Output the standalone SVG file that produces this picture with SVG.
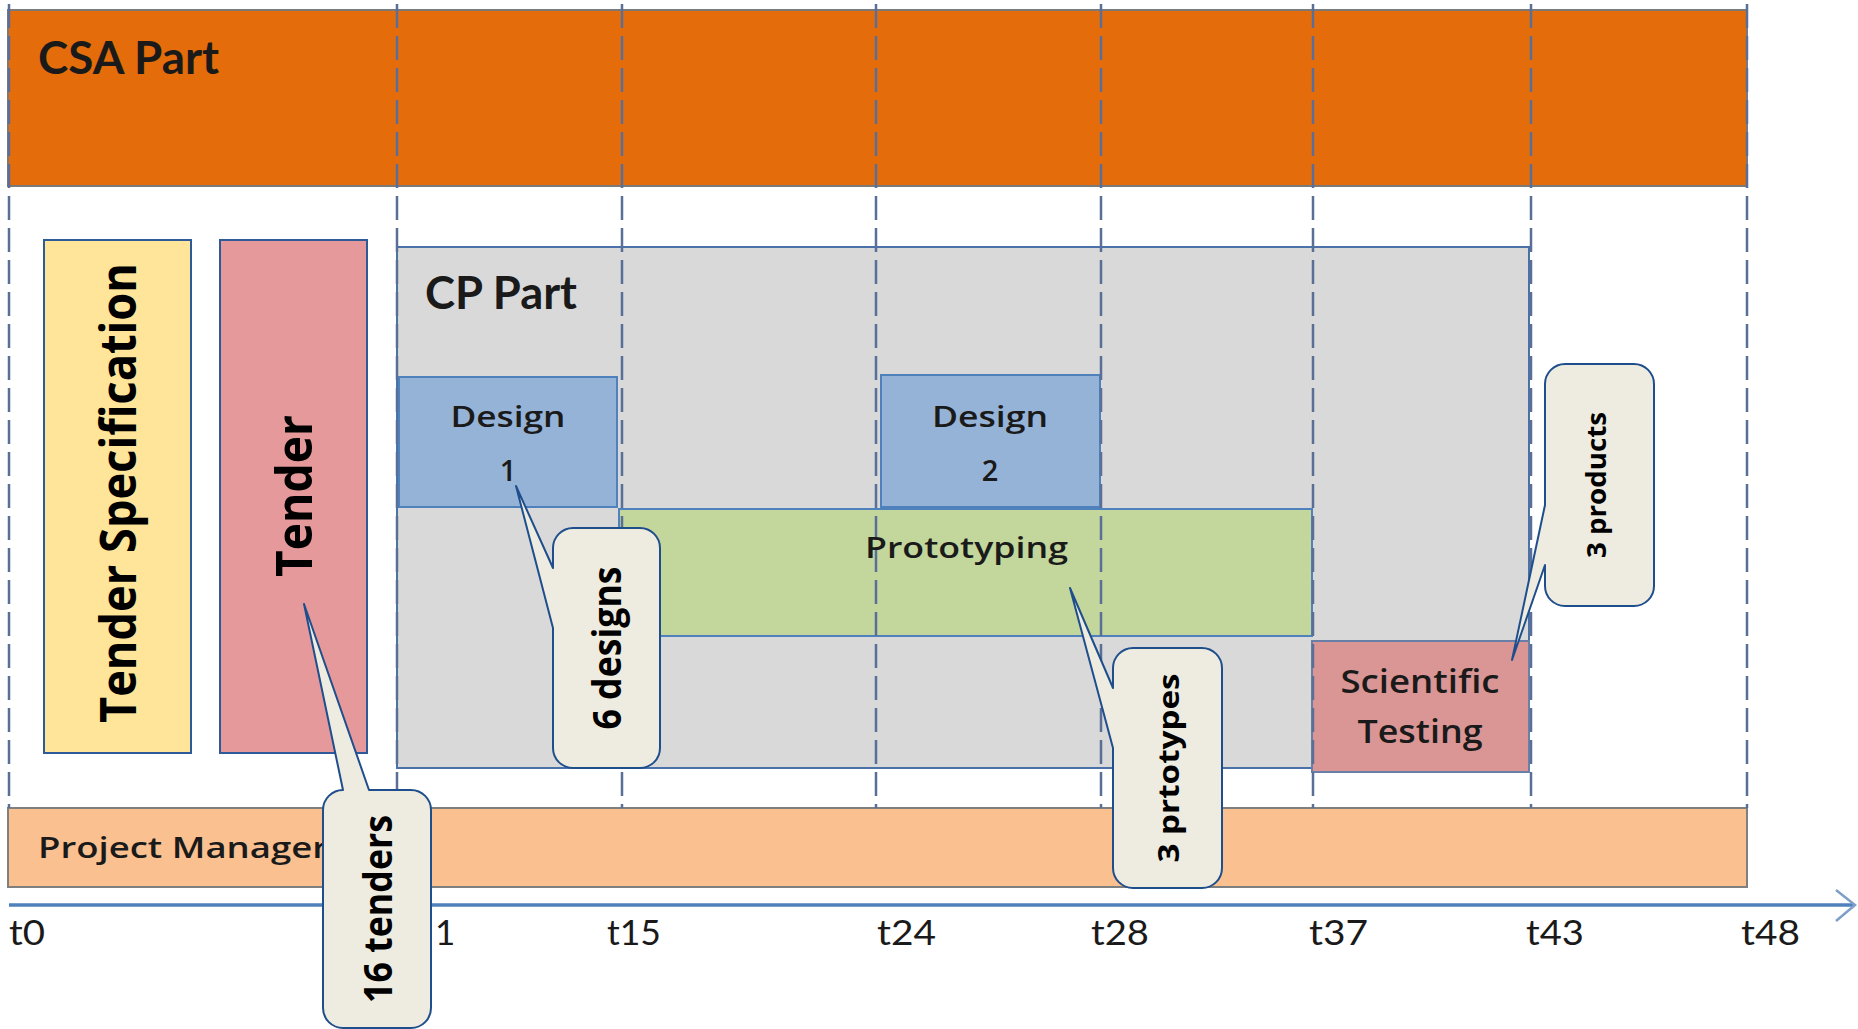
<svg xmlns="http://www.w3.org/2000/svg" width="1858" height="1029" viewBox="0 0 1858 1029">
  <style>
    .lbl { font-family: Lato, "Liberation Sans", sans-serif; fill: #1a1a1a; }
    .m { font-family: "Open Sans", Lato, "Liberation Sans", sans-serif; font-weight: 600; }
    .b { font-weight: bold; }
    .call { font-family: "Open Sans", "DejaVu Sans", sans-serif; font-weight: bold; fill: #000; }
    .box { stroke-width: 2; }
    .dash { stroke: #5a6f98; stroke-width: 2.5; stroke-dasharray: 24 8; fill: none; }
    .callout { fill: #eeece1; stroke: #1f4e8c; stroke-width: 2; stroke-linejoin: round; }
  </style>
  <rect x="0" y="0" width="1858" height="1029" fill="#ffffff"/>

  <g id="csa-part">
    <rect x="8" y="10" width="1739" height="176" fill="#e46c0a" stroke="#7a7a7a" stroke-width="2"/>
  </g>
  <g id="project-management">
    <rect x="8" y="808" width="1739" height="79" fill="#fac090" stroke="#7f7f7f" stroke-width="2"/>
  </g>
  <g id="tender-specification">
    <rect x="44" y="240" width="147" height="513" fill="#ffe599" stroke="#2f5a9a" class="box"/>
  </g>
  <g id="tender">
    <rect x="220" y="240" width="147" height="513" fill="#e6999a" stroke="#2f5a9a" class="box"/>
  </g>
  <g id="cp-part">
    <rect x="397" y="247" width="1132" height="521" fill="#d9d9d9" stroke="#4a72a8" class="box"/>
  </g>
  <g id="design-1">
    <rect x="399" y="377" width="218" height="130" fill="#95b3d7" stroke="#4f81bd" class="box"/>
  </g>
  <g id="design-2">
    <rect x="881" y="375" width="219" height="132" fill="#95b3d7" stroke="#4f81bd" class="box"/>
  </g>
  <g id="prototyping">
    <rect x="619" y="509" width="693" height="127" fill="#c3d69b" stroke="#4f81bd" class="box"/>
  </g>
  <g id="scientific-testing">
    <rect x="1312" y="641" width="217" height="131" fill="#da9694" stroke="#6a7fa8" class="box"/>
  </g>

  <g id="connectors">
    <line class="dash" x1="9" y1="4" x2="9" y2="808"/>
    <line class="dash" x1="397" y1="4" x2="397" y2="808"/>
    <line class="dash" x1="622" y1="4" x2="622" y2="808"/>
    <line class="dash" x1="876" y1="4" x2="876" y2="808"/>
    <line class="dash" x1="1101" y1="4" x2="1101" y2="808"/>
    <line class="dash" x1="1313" y1="4" x2="1313" y2="808"/>
    <line class="dash" x1="1531" y1="4" x2="1531" y2="808"/>
    <line class="dash" x1="1747" y1="4" x2="1747" y2="808"/>
    <line x1="9" y1="905" x2="1853" y2="905" stroke="#4f81bd" stroke-width="3.5"/>
    <polyline points="1836,890 1855,905 1836,921" fill="none" stroke="#7f9fc8" stroke-width="2.5"/>
  </g>

  <g id="texts">
    <text class="lbl b" x="38" y="74" font-size="45" textLength="181" lengthAdjust="spacingAndGlyphs">CSA Part</text>
    <text class="lbl b" x="425" y="309" font-size="45" textLength="152" lengthAdjust="spacingAndGlyphs">CP Part</text>
    <text class="call" transform="translate(136,493) rotate(-90)" font-size="50" text-anchor="middle" textLength="460" lengthAdjust="spacingAndGlyphs">Tender Specification</text>
    <text class="call" transform="translate(312,496) rotate(-90)" font-size="50" text-anchor="middle" textLength="162" lengthAdjust="spacingAndGlyphs">Tender</text>
    <text class="lbl m" x="508" y="427" font-size="29" text-anchor="middle" textLength="115" lengthAdjust="spacingAndGlyphs">Design</text>
    <text class="lbl m" x="508" y="481" font-size="29" text-anchor="middle">1</text>
    <text class="lbl m" x="990" y="427" font-size="29" text-anchor="middle" textLength="116" lengthAdjust="spacingAndGlyphs">Design</text>
    <text class="lbl m" x="990" y="481" font-size="29" text-anchor="middle">2</text>
    <text class="lbl m" x="865" y="558" font-size="28" textLength="203" lengthAdjust="spacingAndGlyphs">Prototyping</text>
    <text class="lbl m" x="1420" y="693" font-size="33" text-anchor="middle" textLength="159" lengthAdjust="spacingAndGlyphs">Scientific</text>
    <text class="lbl m" x="1420" y="743" font-size="33" text-anchor="middle" textLength="125" lengthAdjust="spacingAndGlyphs">Testing</text>
    <text class="lbl m" x="38" y="858" font-size="28" textLength="290" lengthAdjust="spacingAndGlyphs">Project Manager</text>
  </g>

  <g id="axis-labels">
    <text class="lbl" x="9" y="945" font-size="35" textLength="36" lengthAdjust="spacingAndGlyphs">t0</text>
    <text class="lbl" x="435" y="945" font-size="35">1</text>
    <text class="lbl" x="607" y="945" font-size="35" textLength="54" lengthAdjust="spacingAndGlyphs">t15</text>
    <text class="lbl" x="877" y="945" font-size="35" textLength="59" lengthAdjust="spacingAndGlyphs">t24</text>
    <text class="lbl" x="1091" y="945" font-size="35" textLength="58" lengthAdjust="spacingAndGlyphs">t28</text>
    <text class="lbl" x="1309" y="945" font-size="35" textLength="59" lengthAdjust="spacingAndGlyphs">t37</text>
    <text class="lbl" x="1526" y="945" font-size="35" textLength="58" lengthAdjust="spacingAndGlyphs">t43</text>
    <text class="lbl" x="1741" y="945" font-size="35" textLength="59" lengthAdjust="spacingAndGlyphs">t48</text>
  </g>

  <g id="callout-16-tenders">
    <path class="callout" d="M 323 810 A 20 20 0 0 1 343 790 L 304 604 L 369 790 L 411 790 A 20 20 0 0 1 431 810 L 431 1008 A 20 20 0 0 1 411 1028 L 343 1028 A 20 20 0 0 1 323 1008 Z"/>
    <text class="call" transform="translate(392,909) rotate(-90)" font-size="40" text-anchor="middle" textLength="188" lengthAdjust="spacingAndGlyphs">16 tenders</text>
  </g>
  <g id="callout-6-designs">
    <path class="callout" d="M 573 528 L 640 528 A 20 20 0 0 1 660 548 L 660 748 A 20 20 0 0 1 640 768 L 573 768 A 20 20 0 0 1 553 748 L 553 628 L 516 486 L 553 568 L 553 548 A 20 20 0 0 1 573 528 Z"/>
    <text class="call" transform="translate(621,648) rotate(-90)" font-size="39" text-anchor="middle" textLength="163" lengthAdjust="spacingAndGlyphs">6 designs</text>
  </g>
  <g id="callout-3-prototypes">
    <path class="callout" d="M 1133 648 L 1202 648 A 20 20 0 0 1 1222 668 L 1222 868 A 20 20 0 0 1 1202 888 L 1133 888 A 20 20 0 0 1 1113 868 L 1113 748 L 1070 588 L 1113 688 L 1113 668 A 20 20 0 0 1 1133 648 Z"/>
    <text class="call" transform="translate(1179,768) rotate(-90)" font-size="29" text-anchor="middle" textLength="189" lengthAdjust="spacingAndGlyphs">3 prtotypes</text>
  </g>
  <g id="callout-3-products">
    <path class="callout" d="M 1565 364 L 1634 364 A 20 20 0 0 1 1654 384 L 1654 586 A 20 20 0 0 1 1634 606 L 1565 606 A 20 20 0 0 1 1545 586 L 1545 565 L 1512 660 L 1545 505 L 1545 384 A 20 20 0 0 1 1565 364 Z"/>
    <text class="call" transform="translate(1606,485) rotate(-90)" font-size="26" text-anchor="middle" textLength="146" lengthAdjust="spacingAndGlyphs">3 products</text>
  </g>
</svg>
